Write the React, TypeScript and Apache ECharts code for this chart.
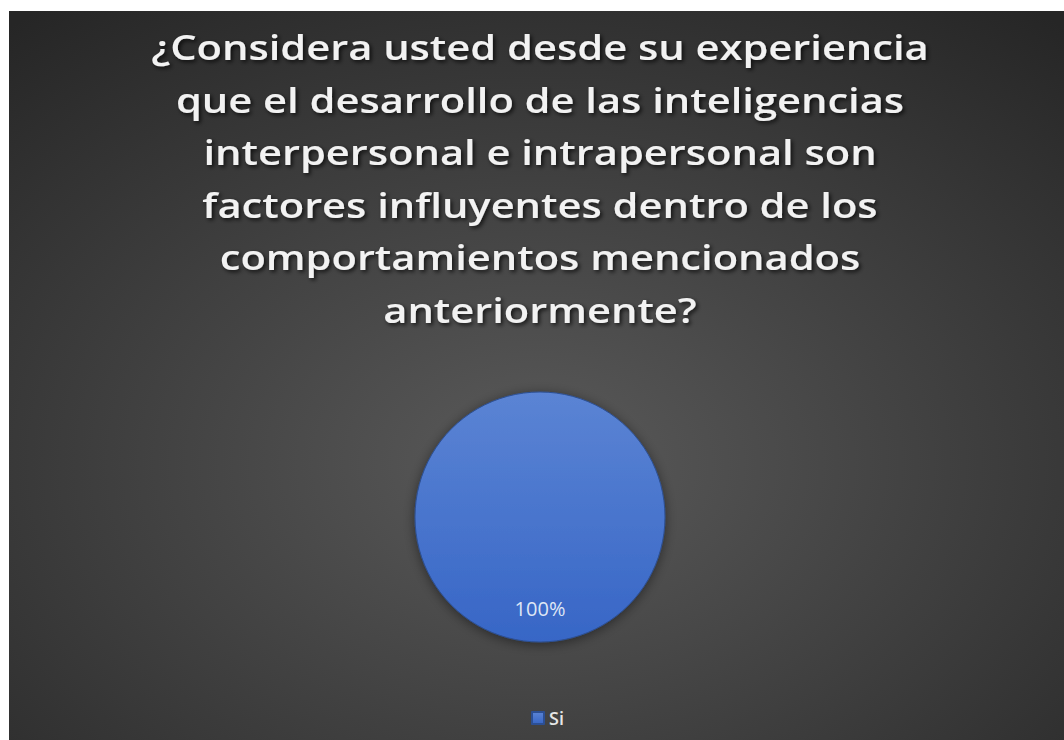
import React, { useEffect, useRef } from "react";
import * as echarts from "echarts";

const titleLines = [
  "¿Considera usted desde su experiencia",
  "que el desarrollo de las inteligencias",
  "interpersonal e intrapersonal son",
  "factores influyentes dentro de los",
  "comportamientos mencionados",
  "anteriormente?",
];
const categories = ["Si"];
const values = [100];

export default function App() {
  const ref = useRef<HTMLDivElement>(null);
  useEffect(() => {
    if (!ref.current) return;
    const chart = echarts.init(ref.current, undefined, { renderer: "svg" });
    chart.setOption({
      animation: false,
      graphic: [
        {
          type: "rect",
          silent: true,
          z: -10,
          shape: { x: 9, y: 11, width: 1055, height: 729 },
          style: {
            fill: new echarts.graphic.RadialGradient(0.5, 0.62, 0.78, [
              { offset: 0, color: "#5a5a5a" },
              { offset: 1, color: "#262626" },
            ]),
          },
        },
        {
          type: "text",
          x: 540,
          y: 20,
          scaleX: 1.19,
          z: 10,
          style: {
            text: titleLines.join("\n"),
            align: "center",
            verticalAlign: "top",
            fill: "#f2f2f2",
            font: "600 35px 'Open Sans'",
            lineHeight: 52.6,
            textShadowColor: "rgba(0,0,0,0.75)",
            textShadowBlur: 4,
            textShadowOffsetX: 2,
            textShadowOffsetY: 2,
          },
        },
      ],
      legend: {
        data: categories,
        left: 526,
        top: 704,
        icon: "rect",
        itemWidth: 12,
        itemHeight: 12,
        itemGap: 6,
        textStyle: { color: "#e6e6e6", fontSize: 18, fontFamily: "Open Sans", fontWeight: 600 },
      },
      series: [
        {
          type: "pie",
          center: [540, 517],
          radius: 125,
          startAngle: 90,
          data: categories.map((c, i) => ({ name: c, value: values[i] })),
          itemStyle: {
            color: new echarts.graphic.LinearGradient(0, 0, 0, 1, [
              { offset: 0, color: "#5b84d4" },
              { offset: 1, color: "#3766c6" },
            ]),
            borderColor: "#2c4f93",
            borderWidth: 1,
            shadowBlur: 12,
            shadowColor: "rgba(0,0,0,0.45)",
            shadowOffsetY: 2,
          },
          label: {
            show: true,
            position: "inside",
            formatter: "\n{d}%",
            color: "#dfe6f5",
            fontSize: 20,
            lineHeight: 52,
            fontFamily: "Open Sans",
          },
          labelLine: { show: false },
          emphasis: { disabled: true },
        },
      ],
    });
    return () => chart.dispose();
  }, []);
  return (
    <div
      ref={ref}
      style={{ position: "absolute", left: 0, top: 0, width: 1064, height: 740, background: "#fff" }}
    />
  );
}
